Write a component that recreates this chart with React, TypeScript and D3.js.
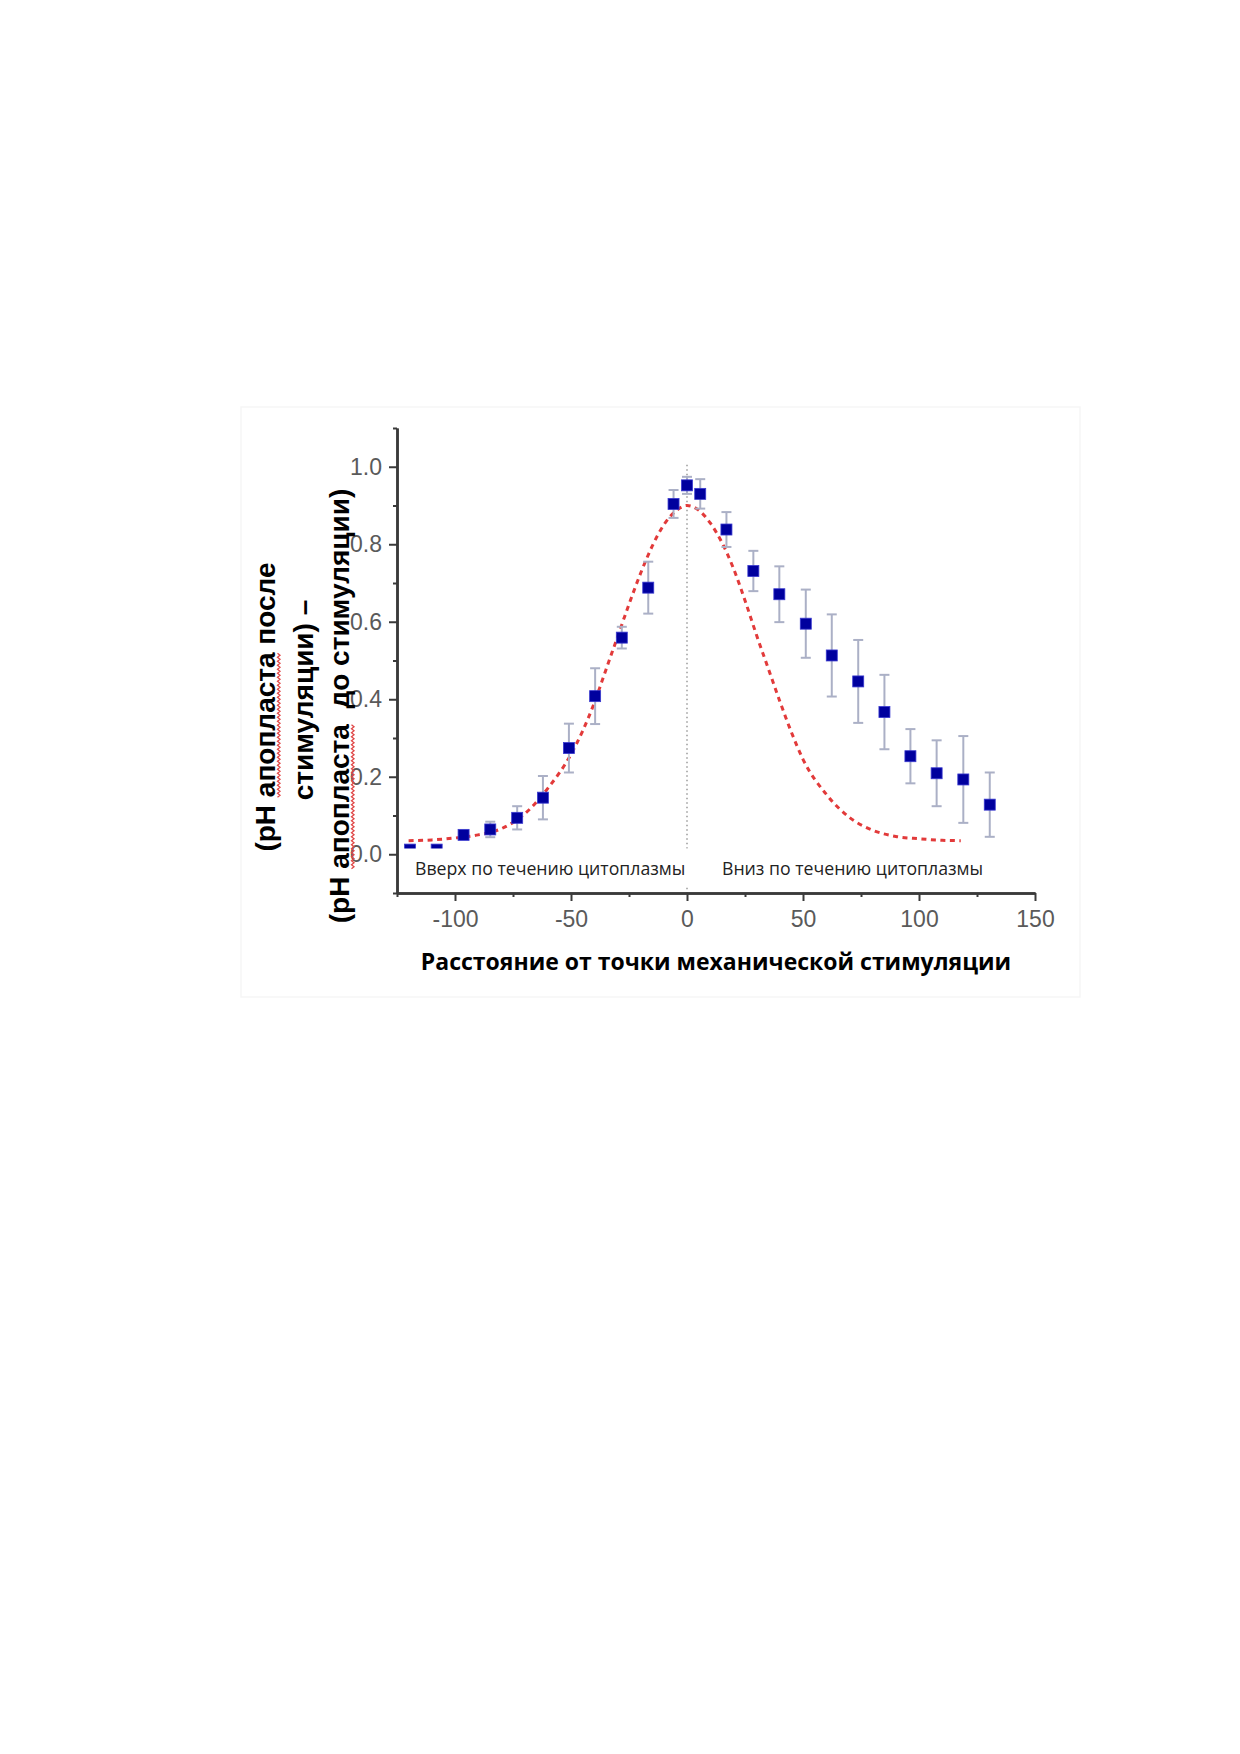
import React, { useEffect, useRef } from "react";
import * as d3 from "d3";

// measured points: distance from stimulation point vs delta pH
const distance = [-119.4, -107.9, -96.3, -84.8, -73.2, -62.1, -50.9, -39.6, -28.1, -16.7, -5.8, 0, 5.7, 17, 28.6, 39.8, 51.2, 62.4, 73.8, 85.1, 96.3, 107.6, 119.1, 130.5];
const deltaPH = [0.012, 0.012, 0.05, 0.064, 0.094, 0.146, 0.274, 0.408, 0.559, 0.688, 0.904, 0.952, 0.93, 0.838, 0.731, 0.671, 0.595, 0.513, 0.446, 0.367, 0.253, 0.209, 0.193, 0.128];
const errPH = [0, 0, 0.008, 0.02, 0.03, 0.056, 0.063, 0.072, 0.028, 0.067, 0.036, 0.022, 0.038, 0.045, 0.052, 0.072, 0.088, 0.106, 0.107, 0.096, 0.07, 0.085, 0.112, 0.083];

// red dashed fit curve
const fitX = [-120, -110, -100, -90, -80, -70, -60, -50, -45, -40, -35, -30, -25, -20, -15, -10, -5, 0, 5, 10, 15, 20, 25, 30, 35, 40, 45, 50, 60, 70, 80, 90, 100, 110, 118];
const fitY = [0.035, 0.037, 0.042, 0.05, 0.066, 0.104, 0.17, 0.258, 0.318, 0.39, 0.475, 0.56, 0.645, 0.725, 0.795, 0.85, 0.885, 0.9, 0.888, 0.855, 0.805, 0.738, 0.655, 0.565, 0.48, 0.395, 0.315, 0.245, 0.155, 0.095, 0.062, 0.046, 0.04, 0.036, 0.035];

const yMajor = [0, 0.2, 0.4, 0.6, 0.8, 1.0];
const yMinor = [-0.1, 0.1, 0.3, 0.5, 0.7, 0.9, 1.1];
const xMajor = [-100, -50, 0, 50, 100, 150];
const xMinor = [-125, -75, -25, 25, 75, 125];

const yTitle = ["(pH апопласта после", "стимуляции) –", "(pH апопласта  до стимуляции)"];
const xTitle = "Расстояние от точки механической стимуляции";
const leftNote = "Вверх по течению цитоплазмы";
const rightNote = "Вниз по течению цитоплазмы";

export default function App() {
  const ref = useRef<SVGSVGElement>(null);

  useEffect(() => {
    if (!ref.current) return;
    draw(ref.current);
  }, []);

  return (
    <div style={{ position: "absolute", left: 0, top: 0, width: 1240, height: 1754, background: "#fff" }}>
      <svg ref={ref} width={1240} height={1754} style={{ display: "block" }} />
    </div>
  );
}

function draw(svgEl: SVGSVGElement) {
  const svg = d3.select(svgEl);
  svg.selectAll("*").remove();

  const x = d3.scaleLinear().domain([-125, 150]).range([397, 1035]);
  const y = d3.scaleLinear().domain([-0.1, 1.1]).range([893, 428]);

  // faint frame of the pasted picture
  svg.append("rect")
    .attr("x", 241).attr("y", 407).attr("width", 839).attr("height", 590)
    .attr("fill", "none").attr("stroke", "#f6f6f6").attr("stroke-width", 1.5);

  // dotted line at the stimulation point
  svg.append("line")
    .attr("x1", x(0)).attr("x2", x(0))
    .attr("y1", y(1.005)).attr("y2", y(-0.1))
    .attr("stroke", "#9a9a9a").attr("stroke-width", 1.5)
    .attr("stroke-dasharray", "1.5,3");

  // fit curve
  const line = d3.line<number>()
    .x((_, i) => x(fitX[i]))
    .y((d) => y(d))
    .curve(d3.curveMonotoneX);

  svg.append("path")
    .datum(fitY)
    .attr("fill", "none")
    .attr("stroke", "#e23a3a")
    .attr("stroke-width", 3)
    .attr("stroke-dasharray", "5,4.5")
    .attr("d", line);

  // error bars
  const eb = svg.append("g").attr("stroke", "#abb0c6").attr("stroke-width", 2);
  distance.forEach((d, i) => {
    if (errPH[i] <= 0) return;
    const cx = x(d);
    const top = y(deltaPH[i] + errPH[i]);
    const bot = y(deltaPH[i] - errPH[i]);
    eb.append("line").attr("x1", cx).attr("x2", cx).attr("y1", top).attr("y2", bot);
    eb.append("line").attr("x1", cx - 5).attr("x2", cx + 5).attr("y1", top).attr("y2", top);
    eb.append("line").attr("x1", cx - 5).attr("x2", cx + 5).attr("y1", bot).attr("y2", bot);
  });

  // squares
  const sz = 11;
  svg.append("g")
    .selectAll("rect")
    .data(distance)
    .join("rect")
    .attr("x", (d) => x(d) - sz / 2)
    .attr("y", (_, i) => y(deltaPH[i]) - sz / 2)
    .attr("width", sz).attr("height", sz)
    .attr("fill", "#00009e")
    .attr("stroke", "#3a3ad0").attr("stroke-width", 0.8);

  // white text box over the lower part of the plot
  svg.append("rect")
    .attr("x", 400).attr("y", 848.5).attr("width", 600).attr("height", 38)
    .attr("fill", "#fff");

  const noteFont = "'Open Sans', 'DejaVu Sans', sans-serif";
  svg.append("text")
    .attr("x", 415).attr("y", 875)
    .attr("font-family", noteFont).attr("font-size", 17.7)
    .attr("fill", "#222").text(leftNote);
  svg.append("text")
    .attr("x", 722).attr("y", 875)
    .attr("font-family", noteFont).attr("font-size", 17.7)
    .attr("fill", "#222").text(rightNote);

  // axes
  const axisFont = "'Liberation Sans', Arial, sans-serif";
  const styleAxis = (g: d3.Selection<SVGGElement, unknown, null, undefined>) => {
    g.select(".domain").attr("stroke", "#3a3a3a").attr("stroke-width", 2.5);
    g.selectAll(".tick line").attr("stroke", "#3a3a3a").attr("stroke-width", 2);
    g.selectAll(".tick text")
      .attr("fill", "#5a5a5a")
      .attr("font-family", axisFont)
      .attr("font-size", 23);
  };

  const yMin = svg.append("g").attr("transform", `translate(${x(-125)},0)`)
    .call(d3.axisLeft(y).tickValues(yMinor).tickSize(4).tickSizeOuter(0).tickFormat(() => ""));
  styleAxis(yMin);
  const yAx = svg.append("g").attr("transform", `translate(${x(-125)},0)`)
    .call(d3.axisLeft(y).tickValues(yMajor).tickSize(8).tickSizeOuter(0).tickPadding(7).tickFormat(d3.format(".1f")));
  styleAxis(yAx);

  const xMin = svg.append("g").attr("transform", `translate(0,${y(-0.1)})`)
    .call(d3.axisBottom(x).tickValues(xMinor).tickSize(4).tickSizeOuter(0).tickFormat(() => ""));
  styleAxis(xMin);
  const xAx = svg.append("g").attr("transform", `translate(0,${y(-0.1)})`)
    .call(d3.axisBottom(x).tickValues(xMajor).tickSize(8).tickSizeOuter(0).tickPadding(10).tickFormat(d3.format("d")));
  styleAxis(xAx);
  xAx.selectAll(".tick text").text((d: any) => (d < 0 ? "-" + Math.abs(d) : String(d)));

  // x title
  svg.append("text")
    .attr("x", 716).attr("y", 970)
    .attr("text-anchor", "middle")
    .attr("font-family", noteFont).attr("font-weight", 700).attr("font-size", 23)
    .attr("fill", "#000").text(xTitle);

  // y title, three rotated lines
  const titleFont = "'Liberation Sans', Arial, sans-serif";
  const baseX = [275, 313, 349];
  const midY = [707, 700, 706];
  yTitle.forEach((t, i) => {
    const g = svg.append("g").attr("transform", `translate(${baseX[i]},${midY[i]}) rotate(-90)`);
    const txt = g.append("text")
      .attr("x", 0).attr("y", 0)
      .attr("text-anchor", "middle")
      .attr("font-family", titleFont).attr("font-weight", 700).attr("font-size", 28)
      .attr("fill", "#000")
      .style("white-space", "pre")
      .text(t);

    // red spell-check squiggle under "апопласта"
    const k = t.indexOf("апопласта");
    if (k < 0) return;
    const node = txt.node() as SVGTextElement;
    const total = node.getComputedTextLength();
    const s0 = -total / 2 + node.getSubStringLength(0, k);
    const w = node.getSubStringLength(k, 9);
    const pts: [number, number][] = [];
    for (let p = 0; p <= w; p += 2) pts.push([s0 + p, (p / 2) % 2 === 0 ? 2.5 : 5]);
    g.append("path")
      .attr("d", d3.line()(pts))
      .attr("fill", "none")
      .attr("stroke", "#e04848")
      .attr("stroke-width", 1.3);
  });
}
